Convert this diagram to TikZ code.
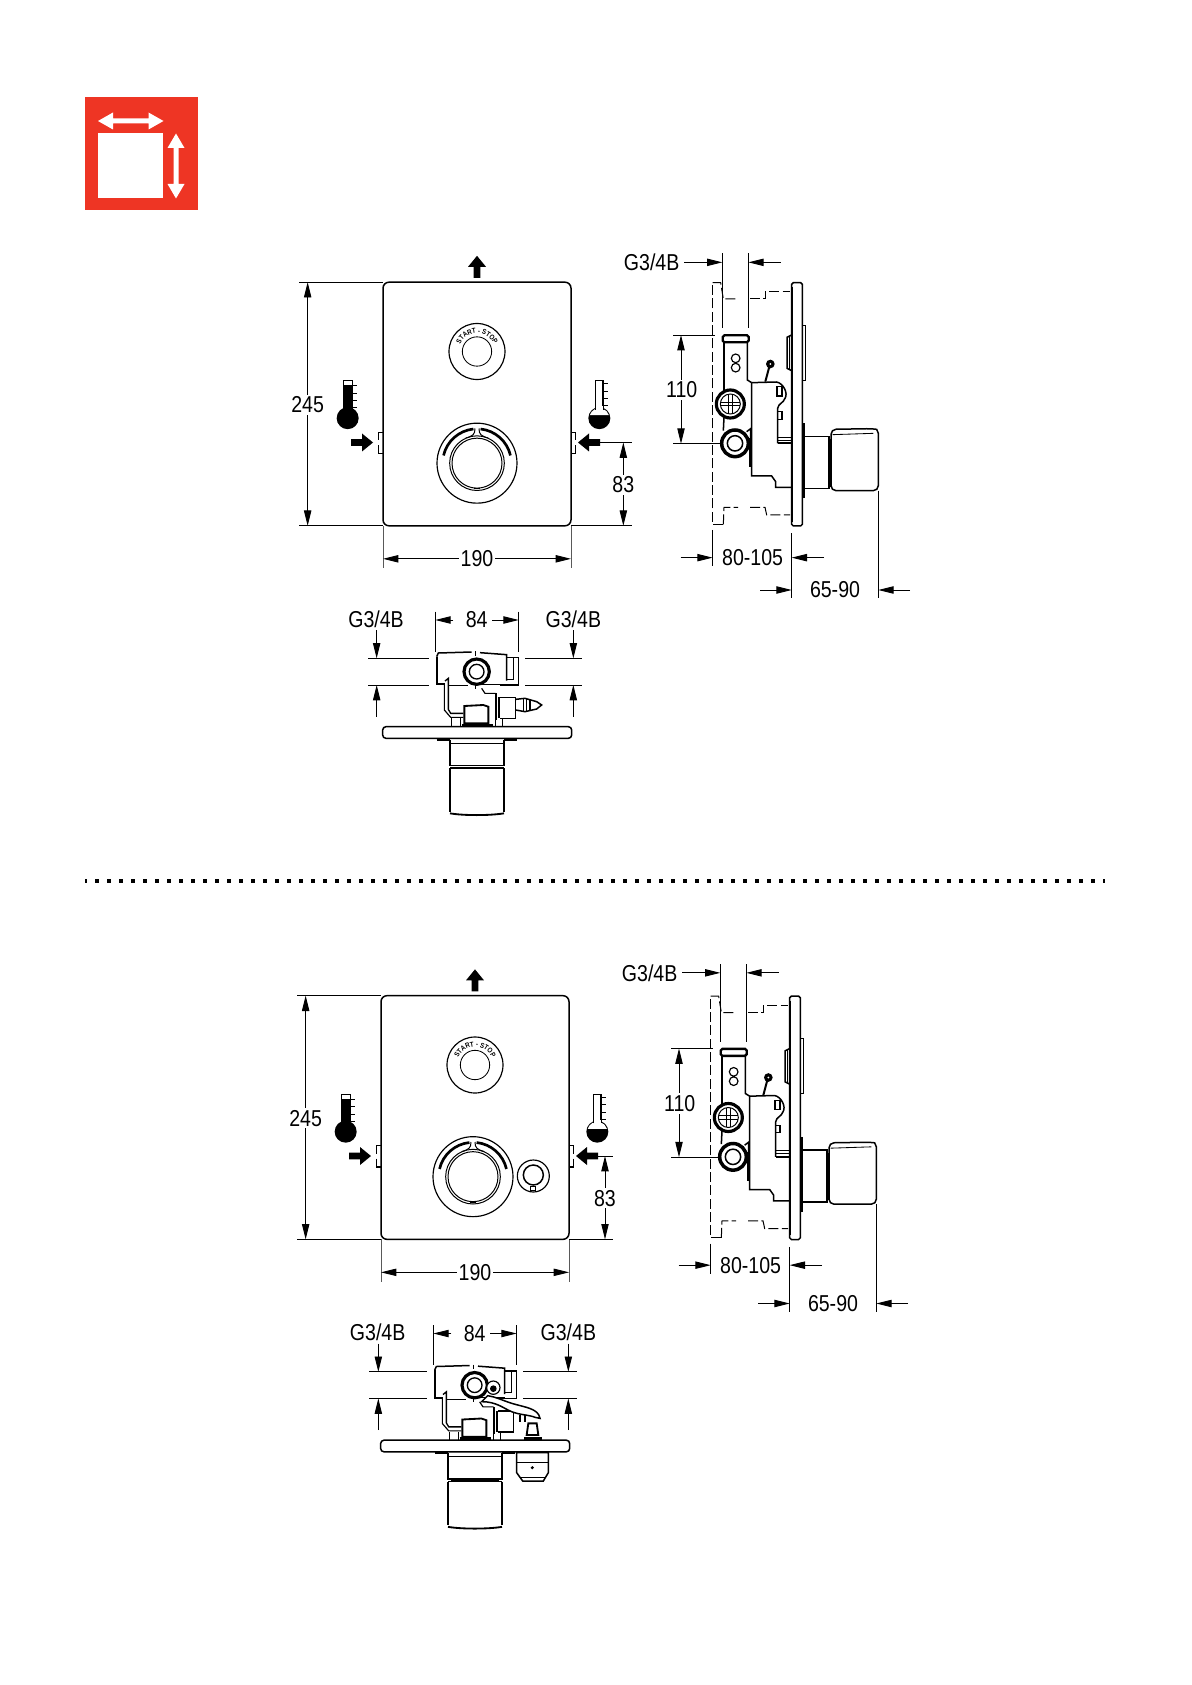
\documentclass[tikz,border=0pt]{standalone}
\usepackage{fontspec}
\setmainfont[FakeStretch=0.85]{Liberation Sans}
\usetikzlibrary{arrows.meta,decorations.text}
\definecolor{signred}{HTML}{EE3524}
\tikzset{
  zoomed/.style={x=0.2pt,y=-0.2pt},
  thinl/.style={line width=0.55pt},
  med/.style={line width=0.9pt},
  ghost/.style={line width=0.6pt,dash pattern=on 6pt off 2pt},
  dimline/.style={line width=0.55pt},
  dimarrow/.style={line width=0.55pt,-{Triangle[length=9.2pt,width=4.4pt]}},
  dimboth/.style={line width=0.55pt,{Triangle[length=9.2pt,width=4.4pt]}-{Triangle[length=9.2pt,width=4.4pt]}},
  dimlabel/.style={font=\fontsize{13.8}{14}\selectfont,fill=white,inner sep=1.2pt,text=black},
  bare/.style={font=\fontsize{13.8}{14}\selectfont,inner sep=0pt,text=black},
}
\newcommand{\fatarrow}[2]{\fill[black,shift={#1},rotate=#2,x=0.6pt,y=0.6pt]
  (0,0)--(-11,-9)--(-11,-3.4)--(-22,-3.4)--(-22,3.4)--(-11,3.4)--(-11,9)--cycle;}
% front view: #1 prefix, #2 dim line x, #3 ext end, #4 knob x
\newcommand{\frontview}[4]{
\begin{scope}[shift={(282,246.5)},zoomed]
  \fatarrow{(585,28)}{90}
  \draw[med,rounded corners=3.6pt,fill=white] (303,107) rectangle (867,838);
  \draw[line width=0.7pt] (303,557)--(290,557)--(290,582);
  \draw[line width=0.7pt] (290,596)--(290,621)--(303,621);
  \draw[line width=0.7pt] (867,557)--(880,557)--(880,582);
  \draw[line width=0.7pt] (880,596)--(880,621)--(867,621);
  % start stop ring
  \draw[line width=0.7pt] (585,315) circle (84);
  \draw[line width=0.5pt] (585,315) circle (44);
  \path[postaction={decorate},decoration={text along path,text align=center,
     text={|\fontsize{4.3}{5}\selectfont\bfseries|START - STOP}}]
     (585,315) ++(200:55) arc (200:340:55);
  % knob
  \draw[line width=0.7pt] (#4,650) circle (120);
  \draw[line width=0.6pt] (#4,650) circle (82);
  \draw[line width=0.6pt] (#4,650) circle (75);
  \draw[line width=1.6pt] (#4,650) ++(193:103) arc (193:264:103);
  \draw[line width=1.6pt] (#4,650) ++(276:103) arc (276:347:103);
  \draw[line width=0.6pt] (#4-6,546) .. controls (#4-6,564) and (#4-12,568) .. (#4-34,575);
  \draw[line width=0.6pt] (#4+6,546) .. controls (#4+6,564) and (#4+12,568) .. (#4+34,575);
  \draw[line width=0.5pt] (#4-8,727)--(#4+8,727);
  % inlet arrows
  \fatarrow{(273,588)}{0}
  \fatarrow{(888,588)}{180}
  % thermometers
  \draw[line width=0.6pt] (185,403) rectangle (211,490);
  \fill[black] (185,417) rectangle (211,495);
  \fill[black] (197,515) circle (33);
  \draw[line width=0.6pt] (211,418)--(225,418) (211,440)--(225,440) (211,462)--(225,462) (211,484)--(225,484);
  \fill[black] (952,515) circle (33);
  \path[fill=white] (952,515) ++(197:30) arc (197:343:30) -- cycle;
  \draw[line width=0.7pt,fill=white] (940,490)--(940,403)--(963,403)--(963,490);
  \fill[white] (941.5,480) rectangle (961.5,496);
  \draw[line width=0.6pt] (963,412)--(977,412) (963,434)--(977,434) (963,456)--(977,456) (963,478)--(977,478);
  % dim 245
  \draw[dimline] (52,107)--(303,107) (52,838)--(303,838);
  \draw[dimboth] (77,107)--(77,838);
  \node[dimlabel] (#1h) at (77,475) {245};
  % dim 190
  \draw[dimline,gray!70!black] (303,838)--(303,965) (867,838)--(867,965);
  \draw[dimboth] (303,937)--(867,937);
  \node[dimlabel] (#1w) at (585,937) {190};
  % dim 83
  \draw[dimline] (952,588)--(#3,588) (867,838)--(#3,838);
  \draw[dimboth] (#2,588)--(#2,838);
  \node[dimlabel] (#1a) at (#2,715) {83};
\end{scope}}
% side view: #1 prefix, #2 y of G3/4B dim, #3 top of its ext lines, #4 y of 80-105 dim
\newcommand{\sideview}[4]{
\begin{scope}[shift={(610,230)},zoomed]
  \draw[ghost] (308,158)--(332,158)--(340,207)--(384,207);
  \draw[ghost] (420,207)--(465,207)--(465,185)--(540,185);
  \draw[ghost] (340,883)--(308,883)--(308,158);
  \draw[ghost] (340,883)--(342,832)--(384,832);
  \draw[ghost] (420,832)--(465,832)--(470,855)--(540,855);
  % plate
  \draw[med,rounded corners=1pt] (545,158) rectangle (577,888);
  \draw[line width=1.3pt] (545,172)--(545,875);
  \draw[line width=0.55pt] (577,285)--(587,285)--(587,450)--(577,450);
  \draw[line width=0.9pt] (545,315)--(531,322)--(531,415)--(545,422);
  \draw[line width=0.9pt] (539,320)--(539,418);
  % collar, neck, handle
  \draw[line width=1.5pt] (580,580)--(580,805);
  \draw[med] (583,620)--(657,620)--(657,775)--(583,775);
  \draw[line width=0.5pt] (660,628)--(660,770);
  \draw[med,rounded corners=3pt] (663,782)--(663,598)--(785,596) .. controls (800,598) and (805,610) .. (805,625) -- (805,782) -- cycle;
  \draw[line width=0.5pt] (668,614)--(790,610);
  % bracket
  \draw[med] (342,338)--(342,500);
  \draw[med] (412,338)--(412,450)--(425,458);
  \draw[line width=1.4pt,rounded corners=1pt,fill=white] (338,316) rectangle (416,337);
  \draw[line width=0.7pt] (377,385) circle (13) (377,413) circle (13);
  % main block
  \draw[med] (425,458)--(500,456) .. controls (520,460) and (535,490) .. (525,505)
     .. controls (520,520) and (505,520) .. (503,535)--(503,640);
  \draw[med] (425,458)--(425,738)--(485,738)--(497,755)--(497,772)--(545,772);
  \draw[line width=0.7pt] (501,470) rectangle (516,498);
  \draw[line width=0.7pt] (503,545) rectangle (516,568);
  \draw[line width=1.4pt] (503,640)--(545,640);
  \draw[line width=0.5pt] (503,622)--(545,622) (503,631)--(545,631);
  \draw[line width=1.2pt] (421,625)--(421,712);
  % lever
  \draw[line width=1.2pt] (466,455)--(480,402);
  \fill[black] (481,402) circle (13);
  \fill[white] (481,402) circle (3);
  % cross ring
  \draw[line width=1.9pt,fill=white] (361,522) circle (42);
  \draw[line width=0.6pt] (361,522) circle (30);
  \draw[line width=0.55pt] (332,517)--(390,517) (332,527)--(390,527) (356,493)--(356,551) (366,493)--(366,551);
  % lower ring and lugs
  \draw[med] (342,562)--(340,602) (410,605)--(422,596)--(422,625);
  \draw[line width=2.1pt,fill=white] (375,640) circle (40);
  \draw[line width=0.9pt] (375,640) circle (23);
  % dim G3/4B
  \draw[dimline] (337,#3)--(337,295) (415,#3)--(415,295);
  \draw[dimarrow] (222,#2)--(337,#2);
  \draw[dimarrow] (512,#2)--(415,#2);
  \node[bare] (#1g) at (125,#2) {G3/4B};
  % dim 110
  \draw[dimline] (190,315)--(315,315) (190,641)--(335,641);
  \draw[dimboth] (213,315)--(213,641);
  \node[dimlabel] (#1d) at (215,480) {110};
  % dim 80-105
  \draw[dimline] (308,900)--(308,#4+25) (545,910)--(545,1105) (805,782)--(805,1105);
  \draw[dimarrow] (212,#4)--(308,#4);
  \draw[dimarrow] (642,#4)--(545,#4);
  \node[bare] (#1r) at (428,#4) {80-105};
  % dim 65-90
  \draw[dimarrow] (450,1080)--(545,1080);
  \draw[dimarrow] (900,1080)--(805,1080);
  \node[bare] (#1t) at (675,1080) {65-90};
\end{scope}}
% bottom view: #1 prefix, #2 left arrow x, #3 right arrow x, #4 right line end, #5 left line start
\newcommand{\bottomview}[5]{
\begin{scope}[shift={(330,590)},zoomed]
  % plate
  \draw[med,rounded corners=2pt] (158,410) rectangle (725,445);
  \draw[line width=1.1pt] (320,449)--(360,449) (522,449)--(560,449);
  % neck, handle
  \draw[med] (360,449)--(360,527)--(522,527)--(522,449);
  \draw[line width=0.5pt] (360,460)--(522,460) (368,532)--(514,532);
  \draw[med] (360,534)--(360,665) (522,534)--(522,665) (360,534)--(522,534);
  \draw[line width=1.1pt] (360,670) .. controls (400,677) and (480,677) .. (522,670);
  % housing
  \draw[line width=1.2pt] (320,200)--(320,283)--(345,283);
  \draw[med] (320,200)--(325,189)--(425,186);
  \draw[med] (450,188)--(530,194)--(530,272);
  \draw[line width=0.6pt] (437,183)--(437,197) (437,283)--(437,296);
  \draw[line width=0.6pt] (355,287)--(415,287) (450,282)--(530,282);
  \draw[med] (510,285)--(565,285)--(565,202)--(530,202);
  \draw[line width=0.6pt] (550,202)--(550,268)--(530,268);
  % mid body
  \draw[line width=0.7pt] (343,283)--(343,360)--(362,382)--(400,382);
  \draw[line width=0.8pt] (345,273)--(355,265)--(355,358)--(362,370)--(400,370);
  \draw[line width=0.7pt] (455,295)--(465,310)--(497,310);
  \draw[line width=1.1pt] (497,310)--(497,390) (507,322)--(507,385);
  \draw[med] (510,322)--(557,322)--(557,385)--(510,385);
  % middle box
  \draw[line width=1.1pt] (403,348)--(460,345)--(475,350)--(475,400)--(403,400)--cycle;
  \draw[line width=1.3pt] (395,405)--(490,405);
  \draw[line width=0.6pt] (363,385)--(363,410) (390,385)--(390,410) (517,385)--(517,410) (497,390)--(497,410);
  % ring
  \draw[line width=1.9pt,fill=white] (440,245) circle (38);
  \draw[line width=0.8pt] (440,245) circle (22);
  % dim 84
  \draw[dimline] (316,65)--(316,185) (566,65)--(566,185);
  \draw[dimarrow] (370,90)--(316,90);
  \draw[dimarrow] (487,90)--(566,90);
  \node[bare] (#1c) at (440,90) {84};
  % dims G3/4B
  \draw[dimline] (#5,205)--(297,205) (#5,285)--(297,285) (585,205)--(#4,205) (585,285)--(#4,285);
  \draw[dimarrow] (#2,120)--(#2,205);
  \draw[dimarrow] (#2,380)--(#2,285);
  \draw[dimarrow] (#3,120)--(#3,205);
  \draw[dimarrow] (#3,380)--(#3,285);
  \node[bare] (#1l) at (#2-2,87) {G3/4B};
  \node[bare] (#1q) at (#3,87) {G3/4B};
\end{scope}}

\begin{document}
\begin{tikzpicture}[x=0.6pt,y=-0.6pt]
\useasboundingbox (0,0) rectangle (1191,1685);
\fill[white] (0,0) rectangle (1191,1685);
% sign
\fill[signred] (85,97) rectangle (198,210);
\fill[white] (98,133) rectangle (163,198);
\fill[white] (98,121)--(113,112.5)--(113,118.5)--(148.5,118.5)--(148.5,112.5)--(163.5,121)--(148.5,129.5)--(148.5,123.5)--(113,123.5)--(113,129.5)--cycle;
\fill[white] (176,133.5)--(184.5,148)--(178.5,148)--(178.5,184)--(184.5,184)--(176,198.5)--(167.5,184)--(173.5,184)--(173.5,148)--(167.5,148)--cycle;

% first group
\frontview{fa}{1024}{1050}{585}
\sideview{sa}{97}{70}{983}
\bottomview{ba}{140}{730}{755}{115}
% nozzle of the first group
\begin{scope}[shift={(330,590)},zoomed]
  \draw[line width=0.9pt] (557,328)--(585,325)--(620,335)--(635,345)--(620,357)--(585,365)--(557,360);
  \draw[line width=0.8pt] (580,326)--(580,364) (590,327)--(590,364) (600,329)--(600,362);
\end{scope}

% separator
\draw[line width=2.4pt,dash pattern=on 2.4pt off 4.8pt,dash phase=1.2pt] (85,881)--(1105,881);

% second group
\begin{scope}[shift={(-2,713.5)}]
\frontview{fb}{975}{1000}{579}
\sideview{sb}{88}{62}{965}
\bottomview{bb}{151}{721}{746}{124}
\end{scope}

% extras of the second group: front
\begin{scope}[shift={(280,960)},zoomed]
  \draw[line width=0.7pt] (760,648) circle (48);
  \draw[line width=0.9pt] (760,645) circle (30);
  \draw[line width=0.6pt,fill=white] (750,678) rectangle (766,692);
\end{scope}
% extras of the second group: hose, fitting and cartridge
\begin{scope}[shift={(330,1300)},zoomed]
  \draw[line width=0.7pt,fill=white] (490,263) circle (20);
  \fill[black] (490,266) circle (10);
  \draw[line width=0.9pt,fill=white] (473,287) .. controls (495,290) and (515,300) .. (545,310) .. controls (585,322) and (625,325) .. (630,355) -- (615,352)
     .. controls (600,345) and (570,345) .. (545,335) .. controls (520,325) and (500,305) .. (455,305) -- cycle;
  \draw[line width=0.7pt] (570,345)--(570,365) (585,345)--(585,365);
  \draw[line width=1.1pt] (595,370)--(620,370)--(625,405)--(590,405)--cycle;
  \fill[black] (583,410) rectangle (635,420);
  \draw[med] (560,458)--(560,518)--(578,543)--(640,543)--(655,518)--(655,458)--cycle;
  \draw[line width=0.6pt] (560,487)--(655,487) (574,532)--(644,532);
  \fill[black] (607,503) circle (5);
\end{scope}
\end{tikzpicture}
\end{document}
